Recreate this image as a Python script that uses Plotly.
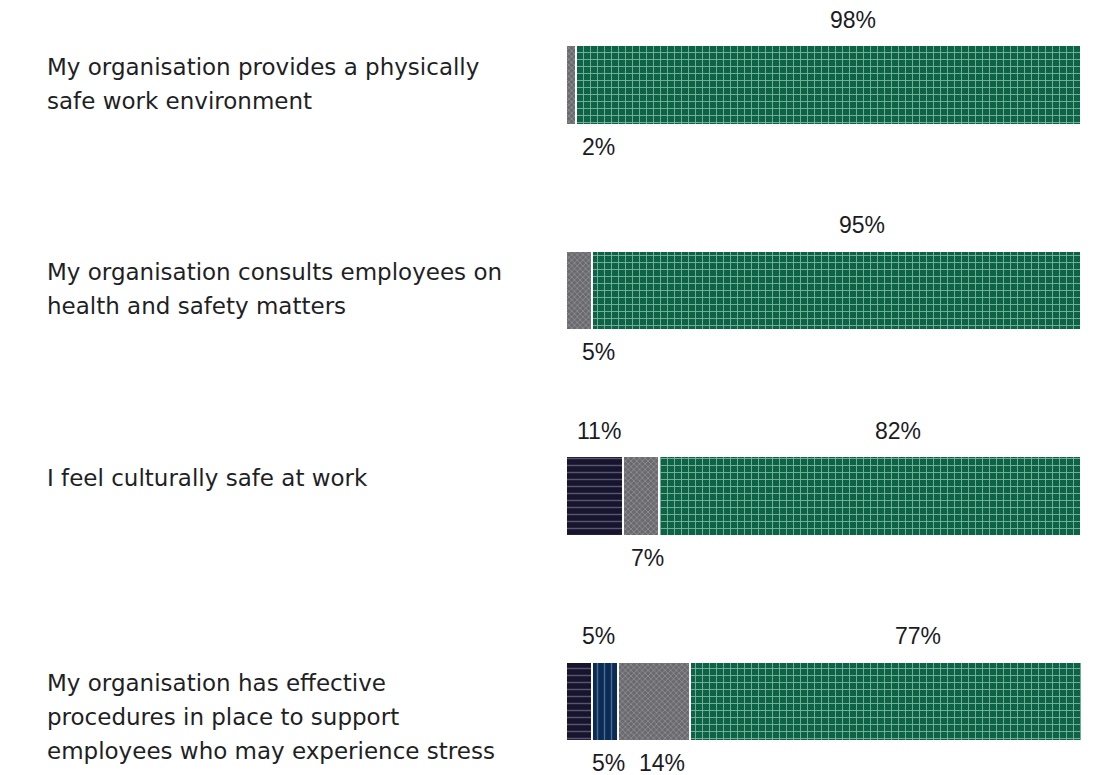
import plotly.graph_objects as go

# Survey statements (one per row) and response shares in percent
statements = [
    "My organisation provides a physically<br>safe work environment",
    "My organisation consults employees on<br>health and safety matters",
    "I feel culturally safe at work",
    "My organisation has effective<br>procedures in place to support<br>employees who may experience stress",
]
disagree = [None, None, 11, 5]
unsure = [None, None, None, 5]
neutral = [2, 5, 7, 14]
agree = [98, 95, 82, 77]

# name, values, fill, pattern shape, pattern colour, pattern size, solidity, label side
series = [
    ("Disagree", disagree, "#17142d", "-", "#6f6b88", 7, 0.2, "above"),
    ("Don't know", unsure, "#0b2b55", "|", "#5e80ab", 7, 0.2, "below"),
    ("Neither", neutral, "#6a6a6e", "x", "#b8b8bc", 4, 0.25, "below"),
    ("Agree", agree, "#0d6346", "+", "#a5d0bd", 7, 0.24, "above"),
]

TEXT_FONT = "'DejaVu Sans', sans-serif"
NUM_FONT = "'Liberation Sans', Arial, sans-serif"
rows = list(range(len(statements)))

fig = go.Figure()
for name, vals, bg, shape, fg, psize, solid, _ in series:
    fig.add_trace(go.Bar(
        name=name,
        y=rows,
        x=vals,
        orientation="h",
        width=0.385,
        marker=dict(
            color=bg,
            line=dict(color="white", width=2),
            pattern=dict(shape=shape, fillmode="overlay", fgcolor=fg,
                         fgopacity=0.75, size=psize, solidity=solid),
        ),
        hoverinfo="x+name",
    ))

# Percentage labels, spread across the bar and kept clear of the left edge
LABEL_SPREAD = 1.093
MIN_LABEL_X = 6.4
for r in rows:
    start = 0
    for name, vals, *_, side in series:
        v = vals[r]
        if not v:
            continue
        cx = max((start + v / 2) * LABEL_SPREAD, MIN_LABEL_X)
        fig.add_annotation(
            x=cx, y=r, xref="x", yref="y",
            text=f"{v}%", showarrow=False,
            xanchor="center", yanchor="middle",
            yshift=65 if side == "above" else -62,
            font=dict(family=NUM_FONT, size=23, color="#1b1b1f"),
        )
        start += v

# Statement text, one annotation per line, left aligned beside each bar
for r, s in enumerate(statements):
    for i, line in enumerate(s.split("<br>")):
        fig.add_annotation(
            x=-1.012, y=r, xref="paper", yref="y",
            text=line, showarrow=False,
            xanchor="left", yanchor="middle",
            yshift=18 - 34 * i,
            font=dict(family=TEXT_FONT, size=23, color="#1f1f26"),
        )

fig.update_layout(
    barmode="stack",
    width=1109, height=775,
    margin=dict(l=566, r=28, t=0, b=0),
    paper_bgcolor="white", plot_bgcolor="white",
    showlegend=False,
    xaxis=dict(range=[0, 100], visible=False, fixedrange=True),
    yaxis=dict(range=[3.358, -0.4136], visible=False, fixedrange=True),
)

fig.write_html("out.html")
